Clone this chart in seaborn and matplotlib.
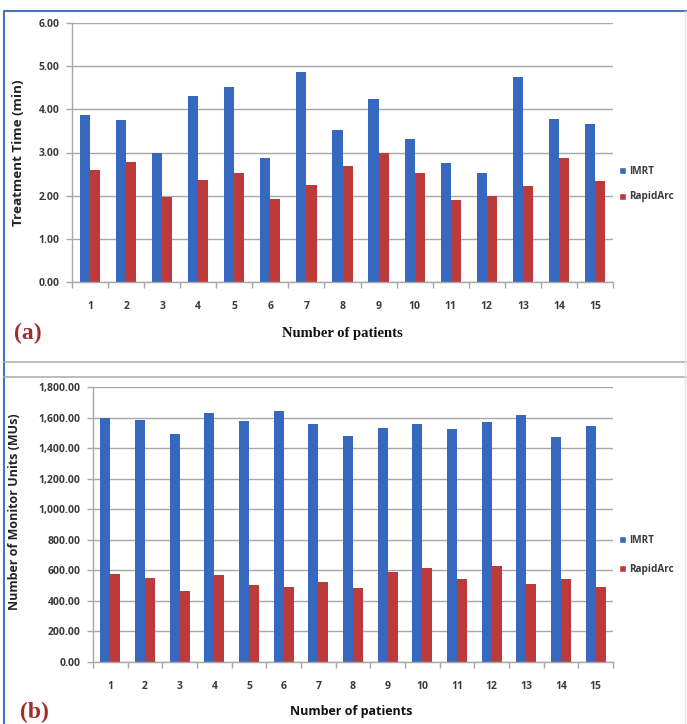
import matplotlib
matplotlib.use("Agg")
import matplotlib.pyplot as plt
from matplotlib.lines import Line2D
from matplotlib.patches import Patch
from matplotlib.ticker import FuncFormatter, FixedLocator
import numpy as np
import pandas as pd
import seaborn as sns

# Per-patient data for the two delivery techniques
patients = [str(i) for i in range(1, 16)]
imrt_time = [3.87, 3.75, 2.98, 4.31, 4.52, 2.88, 4.86, 3.53, 4.24, 3.32, 2.76, 2.52, 4.76, 3.78, 3.66]
rapidarc_time = [2.59, 2.78, 1.97, 2.36, 2.52, 1.93, 2.24, 2.68, 2.98, 2.53, 1.91, 2.00, 2.23, 2.87, 2.34]
imrt_mu = [1595, 1582, 1490, 1632, 1578, 1641, 1558, 1482, 1530, 1560, 1523, 1569, 1615, 1471, 1543]
rapidarc_mu = [578, 552, 463, 572, 506, 491, 521, 484, 591, 615, 545, 628, 513, 545, 493]
techniques = ["IMRT", "RapidArc"]

BLUE = "#3568BE"
RED = "#BC3A3A"
GRID = "#a8a8a8"
TXT = "#3a3a3a"
SANS = ["Open Sans", "DejaVu Sans"]
SERIF = ["Liberation Serif", "DejaVu Serif"]

sns.set_theme(style="white")
plt.rcParams["font.family"] = SANS
plt.rcParams["font.weight"] = "bold"


def long_frame(a, b):
    return pd.DataFrame({
        "patient": patients * 2,
        "technique": [techniques[0]] * len(a) + [techniques[1]] * len(b),
        "value": list(a) + list(b),
    })


def panel(ax, df, ymax, ystep, width):
    sns.barplot(data=df, x="patient", y="value", hue="technique",
                palette={"IMRT": BLUE, "RapidArc": RED}, saturation=1,
                width=width, linewidth=0, ax=ax, legend=False, errorbar=None)
    ax.set_xlim(-0.5, len(patients) - 0.5)
    ax.set_ylim(0, ymax)
    ax.set_yticks(np.arange(0, ymax + ystep / 2, ystep))
    ax.yaxis.set_major_formatter(FuncFormatter(lambda v, p: f"{v:,.2f}"))
    ax.grid(axis="y", color=GRID, linewidth=1.0)
    ax.set_axisbelow(True)
    for s in ["top", "right"]:
        ax.spines[s].set_visible(False)
    for s in ["left", "bottom"]:
        ax.spines[s].set_color(GRID)
        ax.spines[s].set_linewidth(1.0)
    ax.tick_params(axis="y", which="major", length=4, width=1, color=GRID,
                   direction="out", labelsize=7.5, labelcolor=TXT, pad=5, left=True)
    ax.tick_params(axis="x", which="major", length=0, labelsize=7.5,
                   labelcolor=TXT, pad=14)
    ax.xaxis.set_minor_locator(FixedLocator(np.arange(-0.5, len(patients), 1.0)))
    ax.tick_params(axis="x", which="minor", length=4, width=1, color=GRID,
                   direction="out", bottom=True)
    ax.set_xlabel("")
    ax.set_ylabel("")


def legend(ax, y_mid, spacing):
    handles = [Patch(facecolor=BLUE, label="IMRT"), Patch(facecolor=RED, label="RapidArc")]
    leg = ax.legend(handles=handles, loc="center left",
                    bbox_to_anchor=(614 / 687, 1 - y_mid / 724),
                    bbox_transform=ax.figure.transFigure, frameon=False,
                    handlelength=0.7, handleheight=0.7, handletextpad=0.3,
                    labelspacing=spacing, borderpad=0,
                    prop={"size": 7.2, "weight": "bold"})
    for t in leg.get_texts():
        t.set_color(TXT)


fig = plt.figure(figsize=(6.87, 7.24), dpi=100)
fig.patch.set_facecolor("white")

# Panel (a): treatment time
ax1 = fig.add_axes([72 / 687, 1 - 282 / 724, 541 / 687, 259 / 724])
panel(ax1, long_frame(imrt_time, rapidarc_time), 6.0, 1.0, 0.56)
fig.text(19 / 687, 1 - 153 / 724, "Treatment Time (min)", rotation=90,
         ha="center", va="center", fontsize=9.7, fontweight="bold", color="#222222")
fig.text(342 / 687, 1 - 333 / 724, "Number of patients", ha="center", va="center",
         fontsize=10.5, fontweight="bold", family=SERIF, color="#111111")
fig.text(14 / 687, 1 - 333 / 724, "(a)", ha="left", va="center", fontsize=17,
         fontweight="bold", family=SERIF, color="#A02C2C")
legend(ax1, 184, 1.5)

# Panel (b): monitor units
ax2 = fig.add_axes([93 / 687, 1 - 662 / 724, 520 / 687, 275 / 724])
panel(ax2, long_frame(imrt_mu, rapidarc_mu), 1800, 200, 0.58)
fig.text(15 / 687, 1 - 512 / 724, "Number of Monitor Units (MUs)", rotation=90,
         ha="center", va="center", fontsize=9, fontweight="bold", color="#222222")
fig.text(351 / 687, 1 - 711 / 724, "Number of patients", ha="center", va="center",
         fontsize=9, fontweight="bold", color="#111111")
fig.text(20 / 687, 1 - 712 / 724, "(b)", ha="left", va="center", fontsize=17,
         fontweight="bold", family=SERIF, color="#A02C2C")
legend(ax2, 555, 1.8)

# Figure frame and panel separators
fig.add_artist(Line2D([4 / 687, 1], [1 - 11 / 724] * 2, color="#4a72c0", linewidth=1.5))
fig.add_artist(Line2D([4 / 687] * 2, [0, 1 - 11 / 724], color="#4a72c0", linewidth=1.5))
fig.add_artist(Line2D([4 / 687, 1], [1 - 362 / 724] * 2, color="#b0b0b0", linewidth=1.2))
fig.add_artist(Line2D([4 / 687, 1], [1 - 377 / 724] * 2, color="#b0b0b0", linewidth=1.2))
fig.add_artist(Line2D([685 / 687] * 2, [0, 1 - 11 / 724], color="#e4e4e4", linewidth=1.0))

fig.savefig("out.png", dpi=100, facecolor="white")
